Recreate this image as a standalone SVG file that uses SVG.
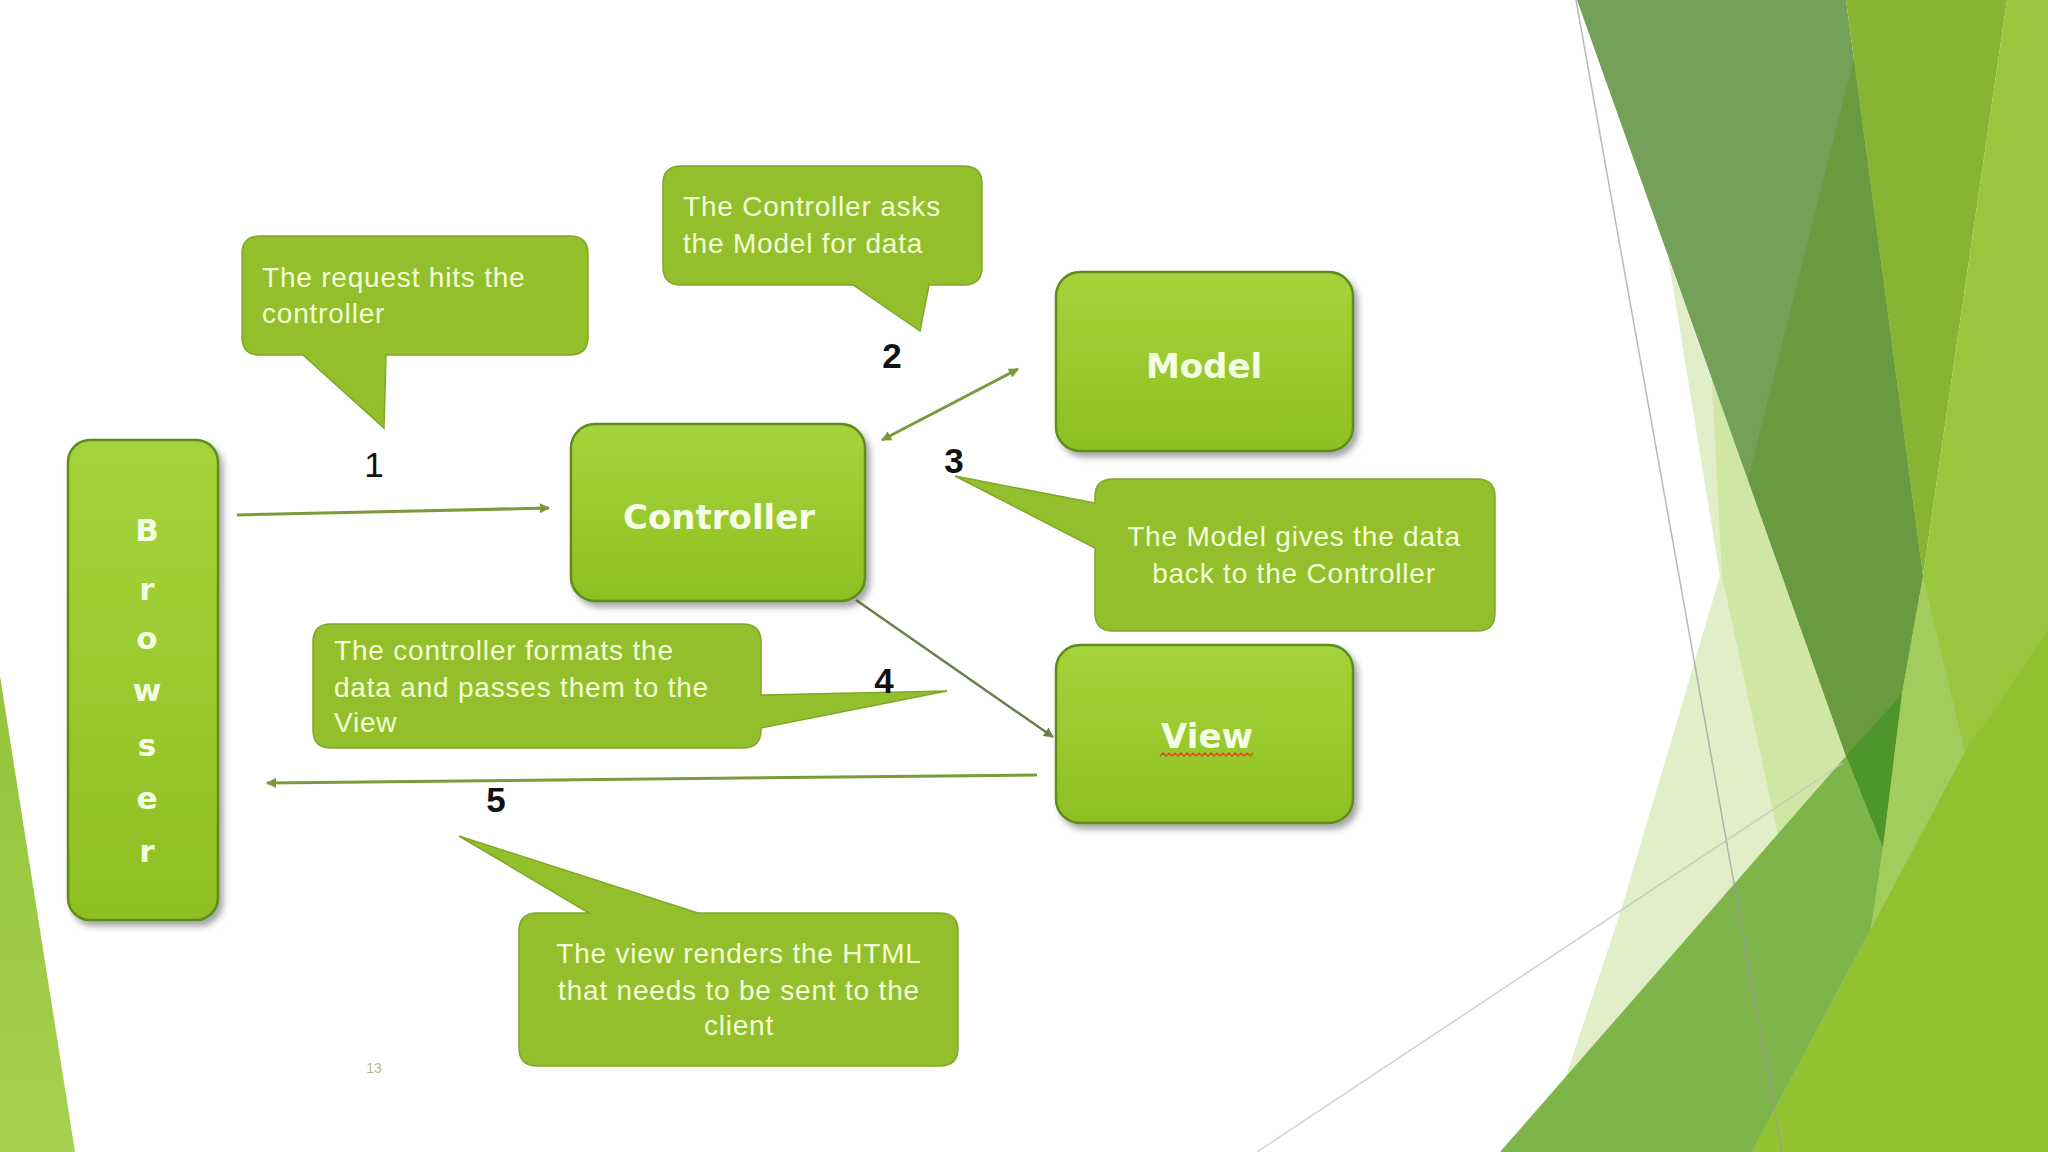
<svg xmlns="http://www.w3.org/2000/svg" width="2048" height="1152" viewBox="0 0 2048 1152">
<style>
.node{fill:url(#ng);stroke:#5f8c1a;stroke-width:2.5;filter:url(#sh)}
.call{fill:#92bf2b;stroke:#7fa82a;stroke-width:1.5}
.ct{font-family:"Liberation Sans",Arial,sans-serif;font-size:28px;letter-spacing:0.8px;fill:#f3ffd5}
.nt{font-family:"DejaVu Sans",Verdana,sans-serif;font-weight:bold;font-size:34px;fill:#f5ffe6}
.bt{font-family:"DejaVu Sans",Verdana,sans-serif;font-weight:bold;font-size:31px;fill:#f5ffe6}
.num{font-family:"Liberation Sans",Arial,sans-serif;font-size:35px;fill:#111}
.conn{stroke:#7b9b3b;stroke-width:3;fill:none}
</style>
<defs>
<linearGradient id="ng" x1="0" y1="0" x2="0" y2="1">
<stop offset="0" stop-color="#a5d33c"/>
<stop offset="0.5" stop-color="#9aca2e"/>
<stop offset="1" stop-color="#8ebf23"/>
</linearGradient>
<linearGradient id="lw" x1="0" y1="0" x2="0" y2="1">
<stop offset="0" stop-color="#93c43a"/>
<stop offset="1" stop-color="#a7d04e"/>
</linearGradient>
<filter id="sh" x="-10%" y="-10%" width="125%" height="125%">
<feDropShadow dx="4" dy="5" stdDeviation="3" flood-color="#3a3a3a" flood-opacity="0.45"/>
</filter>
<marker id="ah" viewBox="0 0 10 10" refX="9" refY="5" markerWidth="13" markerHeight="10" markerUnits="userSpaceOnUse" orient="auto-start-reverse">
<path d="M0,0 L10,5 L0,10 Z" fill="#7b9b3b"/>
</marker>
<marker id="ah2" viewBox="0 0 10 10" refX="9" refY="5" markerWidth="13" markerHeight="10" markerUnits="userSpaceOnUse" orient="auto">
<path d="M0,0 L10,5 L0,10 Z" fill="#6b7f4a"/>
</marker>
</defs>
<rect width="2048" height="1152" fill="#ffffff"/>
<g id="background">
<polygon points="0,676 0,1152 75,1152" fill="url(#lw)"/>
<polygon points="1668,257 1846,756 1562,1088 1622,907 1720,576" fill="#e1eec8"/>
<polygon points="1712,380 1846,756 1778,835 1722,576" fill="#d0e6a4"/>
<polygon points="1577,0 1846,0 1923,576 1902,694 1883,848 1846,756" fill="#74a057"/>
<polygon points="1854,58 1923,576 1902,694 1883,848 1846,756 1748,479" fill="#6a9a40"/>
<polygon points="1846,756 1902,694 1883,848" fill="#4f962a"/>
<polygon points="1846,0 2007,0 1923,576" fill="#87b533"/>
<polygon points="2007,0 2048,0 2048,1152 1752,1152 1871,929 1883,848 1902,694 1923,576" fill="#99c63e"/>
<polygon points="1923,576 1965,752 1871,929 1883,848 1902,694" fill="#a3cc5e"/>
<polygon points="2048,631 2048,1152 1752,1152 1871,929 1965,752" fill="#92c22f"/>
<polygon points="1846,756 1883,848 1871,929 1752,1152 1500,1152" fill="#7db54b"/>
<line x1="1576" y1="0" x2="1782" y2="1152" stroke="#9a9a9a" stroke-width="1.5" stroke-opacity="0.7"/>
<line x1="1257" y1="1152" x2="1843" y2="763" stroke="#c4c4c4" stroke-width="1.5" stroke-opacity="0.8"/>
</g>
<g id="connectors">
<line class="conn" x1="237" y1="515" x2="549" y2="508" marker-end="url(#ah)"/>
<line class="conn" x1="882" y1="440" x2="1018" y2="369" marker-start="url(#ah)" marker-end="url(#ah)"/>
<line x1="856" y1="600" x2="1053" y2="737" stroke="#6b7f4a" stroke-width="2.5" marker-end="url(#ah2)"/>
<line class="conn" x1="1037" y1="775" x2="267" y2="783" marker-end="url(#ah)"/>
</g>
<g id="browser">
<rect class="node" x="68" y="440" width="150" height="480" rx="22"/>
<text class="bt" text-anchor="middle"><tspan x="147" y="541">B</tspan><tspan x="147" y="600">r</tspan><tspan x="147" y="649">o</tspan><tspan x="147" y="701">w</tspan><tspan x="147" y="756">s</tspan><tspan x="147" y="809">e</tspan><tspan x="147" y="862">r</tspan></text>
</g>
<g id="controller">
<rect class="node" x="571" y="424" width="294" height="177" rx="24"/>
<text class="nt" x="719" y="529" text-anchor="middle">Controller</text>
</g>
<g id="model">
<rect class="node" x="1056" y="272" width="297" height="179" rx="24"/>
<text class="nt" x="1204" y="378" text-anchor="middle">Model</text>
</g>
<g id="view">
<rect class="node" x="1056" y="645" width="297" height="178" rx="24"/>
<text class="nt" x="1207" y="748" text-anchor="middle">View</text>
<path d="M1160,756 l3,-3 l3,3 l3,-3 l3,3 l3,-3 l3,3 l3,-3 l3,3 l3,-3 l3,3 l3,-3 l3,3 l3,-3 l3,3 l3,-3 l3,3 l3,-3 l3,3 l3,-3 l3,3 l3,-3 l3,3 l3,-3 l3,3 l3,-3 l3,3 l3,-3 l3,3 l3,-3 l3,3 l3,-3" fill="none" stroke="#d9531e" stroke-width="1.5"/>
</g>
<g id="callout1">
<path class="call" d="M260,236 H570 Q588,236 588,254 V337 Q588,355 570,355 H386 L384,428 L303,355 H260 Q242,355 242,337 V254 Q242,236 260,236 Z"/>
<text class="ct" x="262" y="287">The request hits the</text>
<text class="ct" x="262" y="323">controller</text>
</g>
<g id="callout2">
<path class="call" d="M681,166 H964 Q982,166 982,184 V267 Q982,285 964,285 H929 L920,331 L853,285 H681 Q663,285 663,267 V184 Q663,166 681,166 Z"/>
<text class="ct" x="683" y="216">The Controller asks</text>
<text class="ct" x="683" y="253">the Model for data</text>
</g>
<g id="callout3">
<path class="call" d="M1113,479 H1477 Q1495,479 1495,497 V613 Q1495,631 1477,631 H1113 Q1095,631 1095,613 V548 L955,476 L1095,503 V497 Q1095,479 1113,479 Z"/>
<text class="ct" x="1294" y="546" text-anchor="middle">The Model gives the data</text>
<text class="ct" x="1294" y="583" text-anchor="middle">back to the Controller</text>
</g>
<g id="callout4">
<path class="call" d="M331,624 H743 Q761,624 761,642 V695 L947,691 L761,728 V730 Q761,748 743,748 H331 Q313,748 313,730 V642 Q313,624 331,624 Z"/>
<text class="ct" x="334" y="660">The controller formats the</text>
<text class="ct" x="334" y="697">data and passes them to the</text>
<text class="ct" x="334" y="732">View</text>
</g>
<g id="callout5">
<path class="call" d="M537,913 H589 L459,836 L698,913 H940 Q958,913 958,931 V1048 Q958,1066 940,1066 H537 Q519,1066 519,1048 V931 Q519,913 537,913 Z"/>
<text class="ct" x="739" y="963" text-anchor="middle">The view renders the HTML</text>
<text class="ct" x="739" y="1000" text-anchor="middle">that needs to be sent to the</text>
<text class="ct" x="739" y="1035" text-anchor="middle">client</text>
</g>
<g id="labels">
<text class="num" x="374" y="477" text-anchor="middle">1</text>
<text class="num" x="892" y="368" text-anchor="middle" font-weight="bold">2</text>
<text class="num" x="954" y="473" text-anchor="middle" font-weight="bold">3</text>
<text class="num" x="884" y="693" text-anchor="middle" font-weight="bold">4</text>
<text class="num" x="496" y="812" text-anchor="middle" font-weight="bold">5</text>
<text x="374" y="1073" text-anchor="middle" font-family="Liberation Sans, Arial, sans-serif" font-size="14" fill="#b8b890">13</text>
</g>
</svg>
